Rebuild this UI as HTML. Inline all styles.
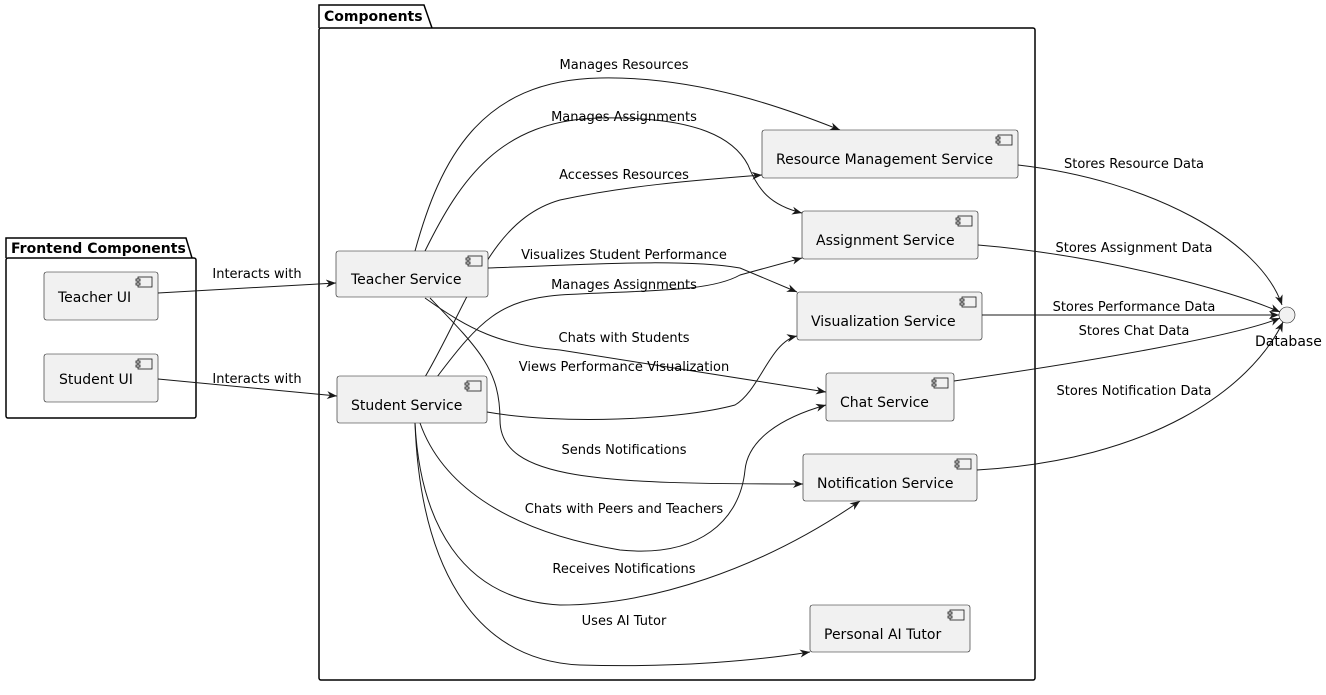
<!DOCTYPE html>
<html><head><meta charset="utf-8"><style>
html,body{margin:0;padding:0;background:#fff;}
svg text{font-family:"DejaVu Sans","Liberation Sans",sans-serif;}
</style></head><body>
<svg width="1326" height="690" viewBox="0 0 1326 690" xmlns="http://www.w3.org/2000/svg">
<defs>
<marker id="a" markerWidth="12" markerHeight="10" refX="10" refY="4" orient="auto" markerUnits="userSpaceOnUse">
<path d="M0,0 L10,4 L0,8 L3,4 z" fill="#181818"/>
</marker>
<g id="ic"><rect x="0" y="0" width="14" height="10" fill="#f1f1f1" stroke="#181818" stroke-width="0.8"/><rect x="-2" y="2" width="4" height="2" fill="#f1f1f1" stroke="#181818" stroke-width="0.8"/><rect x="-2" y="6" width="4" height="2" fill="#f1f1f1" stroke="#181818" stroke-width="0.8"/></g>
</defs>
<!-- packages -->
<path d="M6,258 L6,238 L186,238 L192,258" fill="none" stroke="#000" stroke-width="1.5"/>
<rect x="6" y="258" width="190" height="160" rx="2" fill="none" stroke="#000" stroke-width="1.5"/>
<text x="11" y="253" font-size="14" font-weight="bold">Frontend Components</text>
<path d="M319,28 L319,5 L424,5 L432,28" fill="none" stroke="#000" stroke-width="1.5"/>
<rect x="319" y="28" width="716" height="652" rx="2" fill="none" stroke="#000" stroke-width="1.5"/>
<text x="324" y="21" font-size="14" font-weight="bold">Components</text>

<g fill="none" stroke="#181818" stroke-width="1" marker-end="url(#a)">
<path d="M158,293 L336,283"/>
<path d="M158,379 L337,396"/>
<path d="M415,251 C440,160 480,80 600,78 C700,76 790,110 840,130"/>
<path d="M425,251 C460,180 500,120 600,118 C700,116 735,140 748,165 C758,190 770,205 802,213"/>
<path d="M425,377 C470,300 490,220 560,200 C630,185 700,180 762,175"/>
<path d="M488,268 C580,265 680,258 740,268 L797,292"/>
<path d="M437,377 C480,320 500,300 560,295 C650,290 710,292 740,275 L802,258"/>
<path d="M425,298 C470,330 500,345 560,350 L826,392"/>
<path d="M487,412 C560,425 680,420 735,405 C760,390 770,342 797,336"/>
<path d="M430,298 C480,350 500,370 500,420 C500,480 600,484 803,484"/>
<path d="M420,423 C440,480 500,530 620,550 C700,558 740,520 745,470 C748,440 780,418 826,405"/>
<path d="M415,423 C420,520 460,600 560,605 C650,605 760,570 860,501"/>
<path d="M415,423 C420,560 470,660 580,665 C680,668 760,660 810,652"/>
<path d="M1018,165 C1150,180 1260,240 1282,305"/>
<path d="M978,245 C1100,255 1230,290 1280,312"/>
<path d="M982,315 L1279,315"/>
<path d="M954,381 C1100,360 1240,335 1280,318"/>
<path d="M977,470 C1150,460 1250,390 1283,322"/>
</g>

<g fill="#f1f1f1" stroke="#181818" stroke-width="0.6">
<rect x="44" y="272" width="114" height="48" rx="2.5"/>
<rect x="44" y="354" width="114" height="48" rx="2.5"/>
<rect x="336" y="251" width="152" height="46" rx="2.5"/>
<rect x="337" y="376" width="150" height="47" rx="2.5"/>
<rect x="762" y="130" width="256" height="48" rx="2.5"/>
<rect x="802" y="211" width="176" height="48" rx="2.5"/>
<rect x="797" y="292" width="185" height="48" rx="2.5"/>
<rect x="826" y="373" width="128" height="48" rx="2.5"/>
<rect x="803" y="454" width="174" height="47" rx="2.5"/>
<rect x="810" y="605" width="160" height="47" rx="2.5"/>
<circle cx="1287" cy="315" r="8"/>
</g>
<use href="#ic" x="138" y="277"/><use href="#ic" x="138" y="359"/>
<use href="#ic" x="468" y="256"/><use href="#ic" x="467" y="381"/>
<use href="#ic" x="998" y="135"/><use href="#ic" x="958" y="216"/>
<use href="#ic" x="962" y="297"/><use href="#ic" x="934" y="378"/>
<use href="#ic" x="957" y="459"/><use href="#ic" x="950" y="610"/>

<g font-size="14" fill="#000">
<text x="58" y="302">Teacher UI</text>
<text x="59" y="384">Student UI</text>
<text x="351" y="284">Teacher Service</text>
<text x="351" y="410">Student Service</text>
<text x="776" y="164">Resource Management Service</text>
<text x="816" y="245">Assignment Service</text>
<text x="811" y="326">Visualization Service</text>
<text x="840" y="407">Chat Service</text>
<text x="817" y="488">Notification Service</text>
<text x="824" y="639">Personal AI Tutor</text>
<text x="1255" y="346">Database</text>
</g>
<g font-size="13" fill="#000" text-anchor="middle">
<text x="257" y="278">Interacts with</text>
<text x="257" y="383">Interacts with</text>
<text x="624" y="69">Manages Resources</text>
<text x="624" y="121">Manages Assignments</text>
<text x="624" y="179">Accesses Resources</text>
<text x="624" y="259">Visualizes Student Performance</text>
<text x="624" y="289">Manages Assignments</text>
<text x="624" y="342">Chats with Students</text>
<text x="624" y="371">Views Performance Visualization</text>
<text x="624" y="454">Sends Notifications</text>
<text x="624" y="513">Chats with Peers and Teachers</text>
<text x="624" y="573">Receives Notifications</text>
<text x="624" y="625">Uses AI Tutor</text>
<text x="1134" y="168">Stores Resource Data</text>
<text x="1134" y="252">Stores Assignment Data</text>
<text x="1134" y="311">Stores Performance Data</text>
<text x="1134" y="335">Stores Chat Data</text>
<text x="1134" y="395">Stores Notification Data</text>
</g>
</svg>
</body></html>
